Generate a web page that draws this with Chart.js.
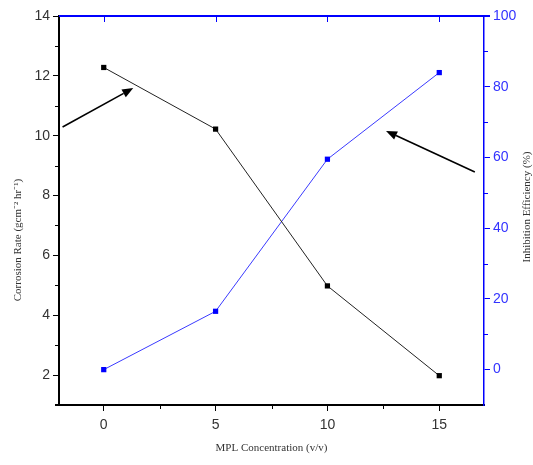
<!DOCTYPE html>
<html>
<head>
<meta charset="utf-8">
<script src="https://cdn.jsdelivr.net/npm/chart.js@4.4.1/dist/chart.umd.min.js"></script>
<style>
  html, body { margin: 0; padding: 0; background: #fff; }
  #wrap { width: 533px; height: 465px; }
</style>
</head>
<body>
<div id="wrap"><canvas id="chart" width="533" height="465"></canvas></div>
<script>
// MPL concentration (v/v)
var concentration = [0, 5, 10, 15];
// corrosion rate, left axis
var corrosionRate = [12.28, 10.22, 4.98, 1.98];
// inhibition efficiency (%), right axis
var inhibition = [0, 16.5, 59.5, 84];

var xTicks = [0, 5, 10, 15];
var xMinor = [2.5, 7.5, 12.5];
var leftTicks = [2, 4, 6, 8, 10, 12, 14];
var leftMinor = [3, 5, 7, 9, 11, 13];
var rightTicks = [0, 20, 40, 60, 80, 100];
var rightMinor = [10, 30, 50, 70, 90];

// annotation arrows [x0, y0, x1, y1] in data units (left axis)
var arrows = [
    [-1.84, 10.29, 1.32, 11.59],
    [16.59, 8.79, 12.62, 10.16]
];

var tickFont = { family: 'Liberation Sans, Arial, sans-serif', size: 14 };
var titleFont = '11px "Liberation Serif", "Times New Roman", serif';
var blue = '#0000ff';

function setTicks(values) {
    return function (scale) {
        scale.ticks = values.map(function (v) { return { value: v }; });
    };
}

// frame, minor ticks, titles and arrows
var extras = {
    id: 'extras',
    afterDraw: function (chart) {
        var ctx = chart.ctx;
        var area = chart.chartArea;
        var xs = chart.scales.x;
        var ys = chart.scales.y;
        var ys1 = chart.scales.y1;
        ctx.save();

        // bottom axis runs a little past the left axis
        ctx.strokeStyle = '#000';
        ctx.lineWidth = 2;
        ctx.beginPath();
        ctx.moveTo(area.left - 4, area.bottom);
        ctx.lineTo(area.left, area.bottom);
        ctx.stroke();

        // minor ticks
        ctx.lineWidth = 1;
        xMinor.forEach(function (v) {
            var px = Math.round(xs.getPixelForValue(v)) + 0.5;
            ctx.beginPath();
            ctx.moveTo(px, area.bottom);
            ctx.lineTo(px, area.bottom + 4);
            ctx.stroke();
        });
        leftMinor.forEach(function (v) {
            var py = Math.round(ys.getPixelForValue(v)) + 0.5;
            ctx.beginPath();
            ctx.moveTo(area.left - 4, py);
            ctx.lineTo(area.left, py);
            ctx.stroke();
        });
        ctx.strokeStyle = blue;
        rightMinor.forEach(function (v) {
            var py = Math.round(ys1.getPixelForValue(v)) + 0.5;
            ctx.beginPath();
            ctx.moveTo(area.right, py);
            ctx.lineTo(area.right + 4, py);
            ctx.stroke();
        });

        // top border with inward ticks
        ctx.lineWidth = 2;
        ctx.beginPath();
        ctx.moveTo(area.left, area.top);
        ctx.lineTo(area.right + 6, area.top);
        ctx.stroke();
        ctx.lineWidth = 1;
        xTicks.forEach(function (v) {
            var px = Math.round(xs.getPixelForValue(v)) + 0.5;
            ctx.beginPath();
            ctx.moveTo(px, area.top);
            ctx.lineTo(px, area.top + 6);
            ctx.stroke();
        });

        // y axis titles, both reading upward
        ctx.fillStyle = '#333';
        ctx.font = titleFont;
        ctx.textAlign = 'center';
        ctx.textBaseline = 'middle';
        ctx.save();
        ctx.translate(18, 240);
        ctx.rotate(-Math.PI / 2);
        ctx.fillText('Corrosion Rate (gcm\u207B\u00B2 hr\u207B\u00B9)', 0, 0);
        ctx.restore();
        ctx.save();
        ctx.translate(527, 207);
        ctx.rotate(-Math.PI / 2);
        ctx.fillText('Inhibition Efficiency (%)', 0, 0);
        ctx.restore();

        // arrows
        ctx.strokeStyle = '#000';
        ctx.fillStyle = '#000';
        ctx.lineWidth = 1.6;
        arrows.forEach(function (a) {
            var x0 = xs.getPixelForValue(a[0]), y0 = ys.getPixelForValue(a[1]);
            var x1 = xs.getPixelForValue(a[2]), y1 = ys.getPixelForValue(a[3]);
            var ang = Math.atan2(y1 - y0, x1 - x0);
            var len = 11, half = 4.5;
            var bx = x1 - len * Math.cos(ang), by = y1 - len * Math.sin(ang);
            ctx.beginPath();
            ctx.moveTo(x0, y0);
            ctx.lineTo(bx, by);
            ctx.stroke();
            ctx.beginPath();
            ctx.moveTo(x1, y1);
            ctx.lineTo(bx + half * Math.sin(ang), by - half * Math.cos(ang));
            ctx.lineTo(bx - half * Math.sin(ang), by + half * Math.cos(ang));
            ctx.closePath();
            ctx.fill();
        });
        ctx.restore();
    }
};

var ctx = document.getElementById('chart').getContext('2d');
var chart = new Chart(ctx, {
    type: 'line',
    data: {
        datasets: [{
            label: 'Corrosion Rate',
            data: concentration.map(function (c, i) { return { x: c, y: corrosionRate[i] }; }),
            yAxisID: 'y',
            borderColor: '#222',
            backgroundColor: '#000',
            borderWidth: 1,
            pointStyle: 'rect',
            pointRadius: 3.7,
            pointBorderWidth: 0,
            tension: 0
        }, {
            label: 'Inhibition Efficiency',
            data: concentration.map(function (c, i) { return { x: c, y: inhibition[i] }; }),
            yAxisID: 'y1',
            borderColor: '#3a3aff',
            backgroundColor: blue,
            borderWidth: 1,
            pointStyle: 'rect',
            pointRadius: 3.7,
            pointBorderWidth: 0,
            tension: 0
        }]
    },
    options: {
        responsive: false,
        animation: false,
        layout: { padding: { top: 16, left: 0, right: 0, bottom: 0 } },
        plugins: {
            legend: { display: false },
            tooltip: { enabled: false }
        },
        scales: {
            x: {
                type: 'linear',
                min: -2,
                max: 17,
                afterBuildTicks: setTicks(xTicks),
                afterFit: function (s) { s.height = 60; },
                border: { color: '#000', width: 2 },
                grid: { drawOnChartArea: false, tickLength: 6, color: '#000' },
                ticks: {
                    color: '#333',
                    font: tickFont,
                    padding: 6,
                    maxRotation: 0,
                    autoSkip: false
                },
                title: {
                    display: true,
                    text: 'MPL Concentration (v/v)',
                    color: '#333',
                    font: { family: '"Liberation Serif", "Times New Roman", serif', size: 11 },
                    padding: { top: 0, bottom: 10 }
                }
            },
            y: {
                position: 'left',
                min: 1,
                max: 14,
                afterBuildTicks: setTicks(leftTicks),
                afterFit: function (s) { s.width = 59; },
                border: { color: '#000', width: 2 },
                grid: { drawOnChartArea: false, tickLength: 6, color: '#000' },
                ticks: {
                    color: '#333',
                    font: tickFont,
                    padding: 3,
                    autoSkip: false
                }
            },
            y1: {
                position: 'right',
                min: -10,
                max: 100,
                afterBuildTicks: setTicks(rightTicks),
                afterFit: function (s) { s.width = 49; },
                border: { color: blue, width: 1.5 },
                grid: { drawOnChartArea: false, tickLength: 6, color: blue },
                ticks: {
                    color: '#3333ff',
                    font: tickFont,
                    padding: 3,
                    autoSkip: false
                }
            }
        }
    },
    plugins: [extras]
});
</script>
</body>
</html>
